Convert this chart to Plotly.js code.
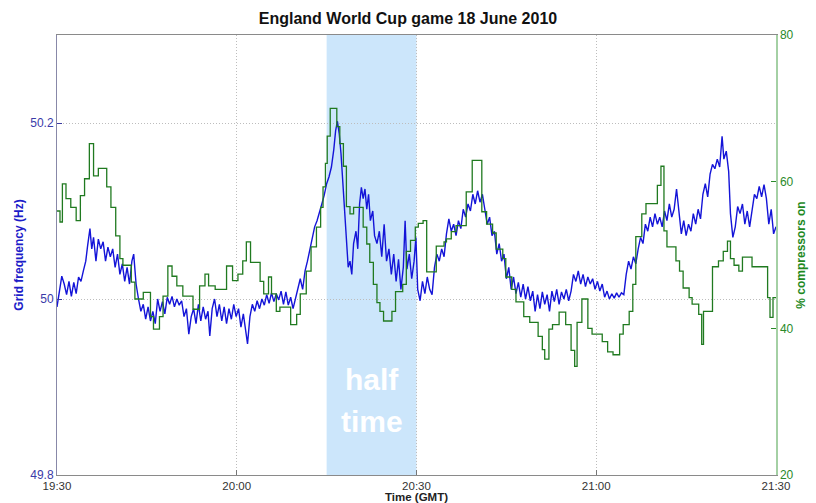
<!DOCTYPE html>
<html>
<head>
<meta charset="utf-8">
<script src="https://cdn.plot.ly/plotly-3.0.1.min.js"></script>
<style>html,body{margin:0;padding:0;background:#fff;}#chart{width:816px;height:503px;}</style>
</head>
<body>
<div id="chart"></div>
<script>
// Minutes after 19:30 GMT and grid frequency (Hz)
var freqMinutes = [0,0.4,0.8,1.2,1.6,2.0,2.4,2.8,3.2,3.6,4.0,4.4,4.8,5.1,5.5,5.8,6.1,6.5,6.9,7.3,7.7,8.1,8.5,8.9,9.3,9.7,10.1,10.5,10.9,11.3,11.7,12.1,12.5,12.8,13.2,13.6,14.0,14.4,14.8,15.2,15.6,16.0,16.4,16.8,17.2,17.6,18.0,18.4,18.8,19.2,19.6,20.0,20.4,20.8,21.2,21.6,22.0,22.4,22.8,23.2,23.6,24.0,24.4,24.8,25.2,25.5,25.9,26.3,26.7,27.1,27.5,27.9,28.3,28.7,29.1,29.5,29.9,30.3,30.7,31.1,31.5,31.8,32.2,32.6,33.0,33.4,33.8,34.2,34.6,35.0,35.4,35.8,36.2,36.6,37.0,37.4,37.8,38.2,38.6,39.0,39.4,39.8,40.2,40.6,41.0,41.4,41.8,42.2,42.6,43.0,43.4,43.8,44.2,44.6,45.0,45.4,45.8,46.2,46.5,46.8,47.1,47.4,47.7,48.0,48.3,48.6,48.9,49.2,49.5,49.9,50.2,50.5,50.8,51.1,51.4,51.7,52.0,52.3,52.7,53.0,53.4,53.8,54.2,54.6,55.0,55.4,55.8,56.2,56.6,57.0,57.4,57.8,58.1,58.4,58.8,59.2,59.6,59.9,60.2,60.6,61.0,61.4,61.8,62.2,62.6,63.0,63.4,63.8,64.2,64.6,65.0,65.4,65.8,66.2,66.6,67.0,67.4,67.8,68.2,68.6,69.0,69.4,69.8,70.2,70.6,71.0,71.4,71.8,72.2,72.6,73.0,73.4,73.8,74.2,74.6,75.0,75.4,75.8,76.2,76.6,77.0,77.4,77.8,78.2,78.6,79.0,79.4,79.8,80.2,80.6,81.0,81.4,81.8,82.2,82.6,83.0,83.4,83.8,84.2,84.6,85.0,85.4,85.8,86.2,86.6,87.0,87.4,87.8,88.2,88.6,89.0,89.4,89.8,90.2,90.6,91.0,91.4,91.8,92.2,92.6,93.0,93.4,93.8,94.2,94.6,95.0,95.4,95.8,96.2,96.6,97.0,97.4,97.8,98.2,98.6,99.0,99.4,99.8,100.2,100.6,101.0,101.4,101.8,102.2,102.6,103.0,103.4,103.8,104.2,104.6,105.0,105.4,105.8,106.2,106.6,107.0,107.4,107.8,108.2,108.6,109.0,109.4,109.8,110.2,110.6,111.0,111.3,111.7,112.1,112.4,112.8,113.2,113.6,114.0,114.4,114.8,115.2,115.6,116.0,116.4,116.8,117.2,117.6,118.0,118.4,118.8,119.2,119.6,120.0];
var freqHz = [49.991,50.011,50.026,50.017,50.005,50.020,50.003,50.019,50.006,50.025,50.020,50.032,50.043,50.060,50.080,50.057,50.070,50.043,50.068,50.057,50.065,50.043,50.059,50.048,50.057,50.036,50.051,50.028,50.040,50.020,50.036,50.017,50.043,50.051,50.017,50.000,49.986,49.994,49.977,49.991,49.975,49.986,49.972,50.000,49.986,49.997,49.983,50.002,49.994,50.003,49.991,50.000,49.993,49.998,49.980,49.989,49.960,49.980,49.989,49.972,49.994,49.975,49.991,49.977,49.986,49.958,49.989,50.000,49.980,49.994,49.975,49.991,49.972,49.989,49.977,49.994,49.980,49.989,49.968,49.983,49.964,49.949,49.980,49.994,49.986,49.998,49.989,50.000,49.993,50.005,49.995,50.007,49.997,50.006,49.999,50.009,49.994,50.008,49.993,50.002,49.989,50.000,50.014,50.023,50.011,50.032,50.043,50.057,50.068,50.082,50.089,50.100,50.108,50.118,50.131,50.139,50.150,50.170,50.191,50.202,50.188,50.165,50.131,50.097,50.057,50.036,50.043,50.028,50.063,50.077,50.057,50.108,50.127,50.114,50.125,50.102,50.119,50.089,50.100,50.072,50.063,50.077,50.048,50.085,50.043,50.057,50.028,50.051,50.020,50.045,50.011,50.036,50.089,50.034,50.051,50.023,50.043,50.070,50.011,49.998,50.020,50.006,50.025,50.011,50.005,50.036,50.051,50.043,50.057,50.048,50.074,50.091,50.077,50.085,50.072,50.089,50.080,50.102,50.093,50.108,50.100,50.119,50.108,50.123,50.110,50.119,50.102,50.085,50.093,50.072,50.077,50.051,50.063,50.043,50.051,50.023,50.036,50.011,50.025,50.006,50.019,50.002,50.017,50.000,50.014,49.998,50.009,49.986,50.005,49.989,50.008,49.994,50.005,49.986,50.009,49.997,50.011,49.994,50.008,50.000,50.011,49.998,50.009,50.028,50.020,50.032,50.017,50.028,50.014,50.025,50.017,50.023,50.011,50.020,50.009,50.017,50.002,50.009,50.000,50.006,50.001,50.007,50.002,50.007,50.005,50.028,50.043,50.034,50.048,50.040,50.057,50.070,50.063,50.085,50.077,50.093,50.082,50.097,50.085,50.093,50.082,50.100,50.089,50.108,50.093,50.102,50.125,50.097,50.074,50.089,50.072,50.085,50.077,50.097,50.085,50.102,50.091,50.119,50.131,50.116,50.142,50.153,50.148,50.159,50.150,50.185,50.159,50.168,50.145,50.097,50.070,50.082,50.105,50.097,50.108,50.085,50.100,50.082,50.102,50.119,50.114,50.128,50.116,50.130,50.114,50.085,50.102,50.074,50.082];

// Minutes after 19:30 GMT and % of compressors on (step changes)
var compMinutes = [0,0.5,0.9,1.5,2.3,3.2,3.9,4.6,5.4,6.1,6.9,8.3,9.0,9.8,10.5,11.0,12.4,13.0,14.4,15.6,16.1,17.1,17.7,18.5,19.2,20.0,21.0,22.7,23.8,24.7,25.3,26.4,28.3,29.3,30.2,31.0,31.6,32.3,33.9,34.5,35.3,35.8,36.6,37.2,39.0,40.0,40.6,41.6,42.4,43.3,44.0,44.4,44.8,45.1,45.6,46.7,47.2,47.8,48.3,48.9,49.5,51.1,51.7,52.2,52.8,53.4,53.9,54.5,55.9,56.5,57.7,58.3,59.0,59.8,60.3,61.1,61.7,63.3,64.6,65.0,65.8,66.6,68.3,69.3,70.9,71.7,72.7,73.3,74.4,74.9,75.9,76.6,77.9,78.9,80.3,81.0,81.4,82.1,82.7,83.8,84.9,85.8,86.4,86.8,87.6,88.6,89.3,91.0,91.9,92.8,93.9,94.5,95.5,96.1,96.6,97.6,98.3,100.2,100.8,101.3,101.8,103.3,103.9,104.5,105.5,106.0,107.1,107.6,107.9,109.4,110.4,111.2,111.9,112.4,113.0,113.8,114.4,116.0,118.6,119.0,119.5,120.0];
var compPct = [56.0,54.5,59.7,57.7,56.5,54.7,58.1,60.4,65.2,60.8,61.8,59.3,56.5,52.6,49.5,48.6,46.3,44.0,44.9,41.6,39.9,41.6,44.4,48.5,47.1,45.8,44.4,42.6,45.8,47.4,45.8,45.3,48.5,46.5,47.4,49.2,51.8,49.0,46.4,44.7,47.0,44.7,42.3,42.9,40.5,41.9,44.7,47.8,51.1,53.8,56.5,59.3,62.5,66.2,70.0,67.5,65.2,62.1,56.6,55.6,56.5,53.8,51.5,49.0,46.0,43.5,42.3,41.0,42.3,45.0,46.0,50.5,52.0,53.8,54.3,54.7,47.7,51.2,51.8,52.2,53.2,54.0,58.6,62.9,55.9,54.2,53.0,50.8,49.5,47.0,45.3,43.6,41.6,40.8,38.9,37.1,35.8,39.9,40.5,42.2,40.5,37.0,34.8,40.8,44.0,40.0,39.2,38.2,36.8,36.4,39.2,40.5,42.3,46.0,52.5,55.6,57.0,59.5,62.1,53.3,51.1,49.2,47.8,45.5,44.2,43.3,41.9,37.8,42.3,48.4,49.2,50.5,51.9,49.5,48.6,47.8,49.7,48.4,44.2,41.5,44.2,44.2];

var tickTimes = ['19:30','20:00','20:30','21:00','21:30'];
var freqTicks = [49.8, 50, 50.2];
var freqTickLabels = ['49.8', '50', '50.2'];
var compTicks = [20, 40, 60, 80];
var halfTime = ['20:15', '20:30'];

var DAY = '2010-06-18 ';
var base = Date.UTC(2010, 5, 18, 19, 30, 0);
function toTime(m) {
  return new Date(base + Math.round(m * 60000)).toISOString().slice(0, 19).replace('T', ' ');
}
var freqX = freqMinutes.map(toTime);
var compX = compMinutes.map(toTime);

var font = 'Liberation Sans, Arial, sans-serif';

var traces = [
  {
    x: compX, y: compPct, yaxis: 'y2', type: 'scatter', mode: 'lines',
    line: {color: '#207a20', width: 1.3, shape: 'hv'},
    hoverinfo: 'skip', name: '% compressors on'
  },
  {
    x: freqX, y: freqHz, yaxis: 'y', type: 'scatter', mode: 'lines',
    line: {color: '#1414d8', width: 1.4},
    hoverinfo: 'skip', name: 'Grid frequency'
  }
];

var layout = {
  width: 816, height: 503,
  margin: {l: 57, r: 40, t: 35, b: 28},
  paper_bgcolor: '#ffffff', plot_bgcolor: '#ffffff',
  showlegend: false,
  font: {family: font, size: 12, color: '#333'},
  title: {
    text: '<b>England World Cup game 18 June 2010</b>',
    font: {family: font, size: 16, color: '#111'},
    x: 0.5, xanchor: 'center', y: 0.963, yanchor: 'middle'
  },
  xaxis: {
    type: 'date',
    range: [DAY + tickTimes[0], DAY + tickTimes[tickTimes.length - 1]],
    tickvals: tickTimes.map(function (t) { return DAY + t; }),
    ticktext: tickTimes,
    ticks: 'inside', ticklen: 5, tickcolor: '#777',
    showgrid: true, gridcolor: '#bdbdbd', griddash: '1px,2px', gridwidth: 1,
    showline: true, linecolor: '#8a8a8a', linewidth: 1, mirror: true,
    zeroline: false,
    tickfont: {family: font, size: 11.5, color: '#333'},
    title: {text: '<b>Time (GMT)</b>', font: {family: font, size: 11.5, color: '#222'}, standoff: 0}
  },
  yaxis: {
    range: [49.8, 50.3],
    tickvals: freqTicks, ticktext: freqTickLabels,
    ticks: 'inside', ticklen: 5, tickcolor: '#3a3aa0',
    showgrid: true, gridcolor: '#bdbdbd', griddash: '1px,2px', gridwidth: 1,
    showline: true, linecolor: '#8888a8', linewidth: 1,
    zeroline: false,
    tickfont: {family: font, size: 12, color: '#3a3aa8'},
    title: {text: '<b>Grid frequency (Hz)</b>', font: {family: font, size: 12, color: '#1c1cc8'}, standoff: 4}
  },
  yaxis2: {
    overlaying: 'y', side: 'right',
    range: [20, 80],
    tickvals: compTicks,
    ticks: 'inside', ticklen: 5, tickcolor: '#2a8a2a',
    showgrid: false,
    showline: true, linecolor: '#a4d0a4', linewidth: 1.5,
    zeroline: false,
    tickfont: {family: font, size: 12, color: '#2a8a2a'},
    title: {text: '<b>% compressors on</b>', font: {family: font, size: 12, color: '#1f8a1f'}, standoff: 4}
  },
  shapes: [
    {
      type: 'rect', xref: 'x', yref: 'paper',
      x0: DAY + halfTime[0], x1: DAY + halfTime[1], y0: 0, y1: 1,
      fillcolor: '#cce6fb', line: {width: 0}, layer: 'below'
    }
  ],
  annotations: [
    {
      xref: 'x', yref: 'paper', x: toTime(52.5), y: 0.175,
      text: '<b>half</b>', showarrow: false,
      font: {family: font, size: 30, color: '#ffffff'}
    },
    {
      xref: 'x', yref: 'paper', x: toTime(52.5), y: 0.08,
      text: '<b>time</b>', showarrow: false,
      font: {family: font, size: 30, color: '#ffffff'}
    }
  ]
};

Plotly.newPlot('chart', traces, layout, {staticPlot: true, displayModeBar: false});
</script>
</body>
</html>
